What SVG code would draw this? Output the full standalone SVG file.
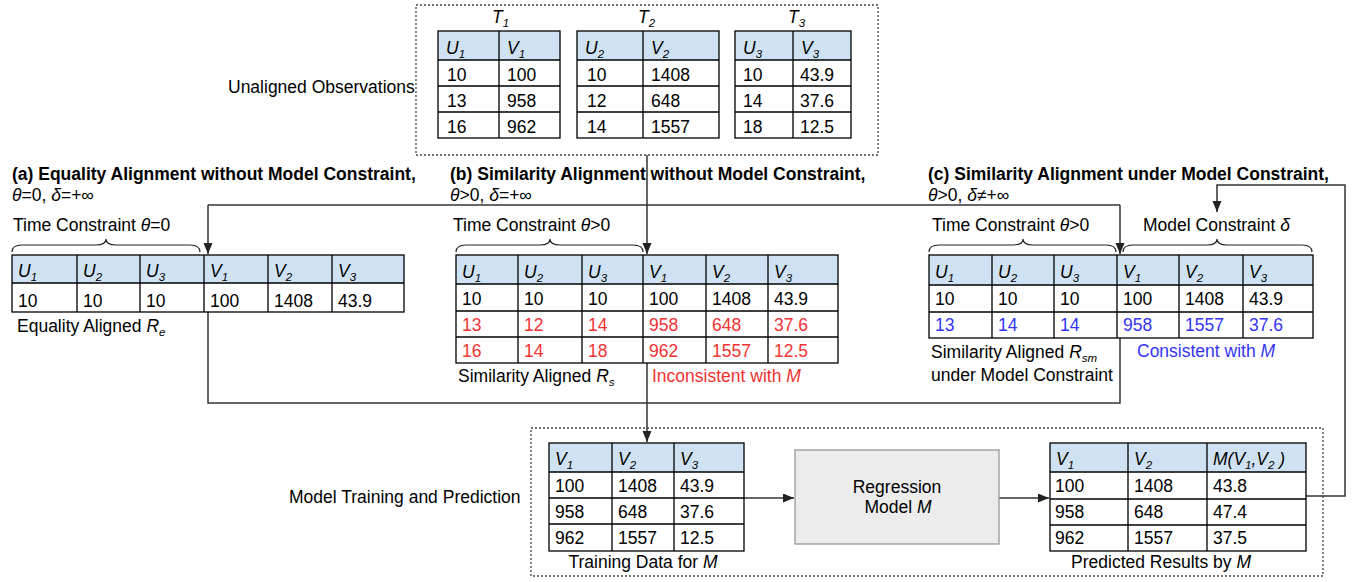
<svg xmlns="http://www.w3.org/2000/svg" width="1367" height="582" viewBox="0 0 1367 582">
<style>
text{font-family:"Liberation Sans",Arial,sans-serif;font-size:17.5px;fill:#000}
.b{font-weight:bold}
.i{font-style:italic}
.s{font-size:11.5px;font-style:italic}
.red{fill:#f23232}
.blue{fill:#3434f4}
.hdr{fill:#cfe2f3;stroke:none}
.grid{stroke:#000;stroke-width:1.3;fill:none}
.conn{stroke:#333;stroke-width:1.5;fill:none}
.brace{stroke:#222;stroke-width:1.2;fill:none}
.dash{stroke:#444;stroke-width:1.3;fill:none;stroke-dasharray:2 2}
.mid{text-anchor:middle}
</style>
<defs>
<marker id="arr" markerUnits="userSpaceOnUse" markerWidth="12" markerHeight="10" refX="11" refY="4.5" orient="auto">
<path d="M0,0 L11,4.5 L0,9 z" fill="#222"/>
</marker>
</defs>
<rect width="1367" height="582" fill="#fff"/>

<g id="connectors">
<path class="conn" d="M647,155 V254" marker-end="url(#arr)"/>
<path class="conn" d="M208,205 H1120"/>
<path class="conn" d="M208,205 V254" marker-end="url(#arr)"/>
<path class="conn" d="M1120,205 V254" marker-end="url(#arr)"/>
<path class="conn" d="M208,312 V403 H1120 V338"/>
<path class="conn" d="M647,363 V442" marker-end="url(#arr)"/>
<path class="conn" d="M744,498 H794" marker-end="url(#arr)"/>
<path class="conn" d="M999,498 H1049" marker-end="url(#arr)"/>
<path class="conn" d="M1306,496 H1345 V185 H1217 V212" marker-end="url(#arr)"/>
</g>

<g id="unaligned">
<rect class="dash" x="416" y="5" width="462" height="150"/>
<text x="228" y="93">Unaligned Observations</text>
<g id="T1">
<text x="492" y="23" class="i">T<tspan class="s" dy="4">1</tspan></text>
<rect class="hdr" x="438" y="31" width="122" height="29"/>
<rect class="grid" x="438" y="31" width="122" height="107"/>
<path class="grid" d="M499,31V138M438,60H560M438,86H560M438,112H560"/>
<text x="446" y="54" class="i">U<tspan class="s" dy="4">1</tspan></text>
<text x="507" y="54" class="i">V<tspan class="s" dy="4">1</tspan></text>
<text x="447" y="81">10</text><text x="507" y="81">100</text>
<text x="447" y="107">13</text><text x="507" y="107">958</text>
<text x="447" y="133">16</text><text x="507" y="133">962</text>
</g>
<g id="T2">
<text x="638" y="23" class="i">T<tspan class="s" dy="4">2</tspan></text>
<rect class="hdr" x="577" y="31" width="142" height="29"/>
<rect class="grid" x="577" y="31" width="142" height="107"/>
<path class="grid" d="M643,31V138M577,60H719M577,86H719M577,112H719"/>
<text x="585" y="54" class="i">U<tspan class="s" dy="4">2</tspan></text>
<text x="651" y="54" class="i">V<tspan class="s" dy="4">2</tspan></text>
<text x="587" y="81">10</text><text x="651" y="81">1408</text>
<text x="587" y="107">12</text><text x="651" y="107">648</text>
<text x="587" y="133">14</text><text x="651" y="133">1557</text>
</g>
<g id="T3">
<text x="788" y="23" class="i">T<tspan class="s" dy="4">3</tspan></text>
<rect class="hdr" x="735" y="31" width="116" height="29"/>
<rect class="grid" x="735" y="31" width="116" height="107"/>
<path class="grid" d="M793,31V138M735,60H851M735,86H851M735,112H851"/>
<text x="743" y="54" class="i">U<tspan class="s" dy="4">3</tspan></text>
<text x="801" y="54" class="i">V<tspan class="s" dy="4">3</tspan></text>
<text x="743" y="81">10</text><text x="800" y="81">43.9</text>
<text x="743" y="107">14</text><text x="800" y="107">37.6</text>
<text x="743" y="133">18</text><text x="800" y="133">12.5</text>
</g>
</g>

<g id="equality">
<text x="12" y="180" class="b">(a) Equality Alignment without Model Constraint,</text>
<text x="12" y="201"><tspan class="i">θ</tspan>=0, <tspan class="i">δ</tspan>=+∞</text>
<text x="13" y="231">Time Constraint <tspan class="i">θ</tspan>=0</text>
<path class="brace" d="M12,252 Q12,245 22,245 H96 Q106,245 106,239 Q106,245 116,245 H190 Q200,245 200,252"/>
<rect class="hdr" x="12" y="255" width="392" height="28"/>
<rect class="grid" x="12" y="255" width="392" height="57"/>
<path class="grid" d="M77,255V312M140,255V312M204,255V312M268,255V312M332,255V312M12,283H404"/>
<text x="18" y="277" class="i">U<tspan class="s" dy="4">1</tspan></text>
<text x="83" y="277" class="i">U<tspan class="s" dy="4">2</tspan></text>
<text x="146" y="277" class="i">U<tspan class="s" dy="4">3</tspan></text>
<text x="210" y="277" class="i">V<tspan class="s" dy="4">1</tspan></text>
<text x="274" y="277" class="i">V<tspan class="s" dy="4">2</tspan></text>
<text x="338" y="277" class="i">V<tspan class="s" dy="4">3</tspan></text>
<text x="18" y="307">10</text><text x="83" y="307">10</text><text x="146" y="307">10</text>
<text x="210" y="307">100</text><text x="274" y="307">1408</text><text x="338" y="307">43.9</text>
<text x="17" y="332">Equality Aligned <tspan class="i">R</tspan><tspan class="s" dy="4">e</tspan></text>
</g>

<g id="similarity">
<text x="450" y="180" class="b">(b) Similarity Alignment without Model Constraint,</text>
<text x="450" y="201"><tspan class="i">θ</tspan>&gt;0, <tspan class="i">δ</tspan>=+∞</text>
<text x="453" y="231">Time Constraint <tspan class="i">θ</tspan>&gt;0</text>
<path class="brace" d="M456,252 Q456,245 466,245 H540 Q550,245 550,239 Q550,245 560,245 H633 Q643,245 643,252"/>
<rect class="hdr" x="456" y="255" width="382" height="29"/>
<rect class="grid" x="456" y="255" width="382" height="108"/>
<path class="grid" d="M518,255V363M582,255V363M643,255V363M706,255V363M768,255V363M456,284H838M456,311H838M456,337H838"/>
<text x="462" y="278" class="i">U<tspan class="s" dy="4">1</tspan></text>
<text x="524" y="278" class="i">U<tspan class="s" dy="4">2</tspan></text>
<text x="588" y="278" class="i">U<tspan class="s" dy="4">3</tspan></text>
<text x="649" y="278" class="i">V<tspan class="s" dy="4">1</tspan></text>
<text x="712" y="278" class="i">V<tspan class="s" dy="4">2</tspan></text>
<text x="774" y="278" class="i">V<tspan class="s" dy="4">3</tspan></text>
<text x="462" y="305">10</text><text x="524" y="305">10</text><text x="588" y="305">10</text>
<text x="649" y="305">100</text><text x="712" y="305">1408</text><text x="774" y="305">43.9</text>
<text class="red" x="462" y="331">13</text><text class="red" x="524" y="331">12</text><text class="red" x="588" y="331">14</text>
<text class="red" x="649" y="331">958</text><text class="red" x="712" y="331">648</text><text class="red" x="774" y="331">37.6</text>
<text class="red" x="462" y="357">16</text><text class="red" x="524" y="357">14</text><text class="red" x="588" y="357">18</text>
<text class="red" x="649" y="357">962</text><text class="red" x="712" y="357">1557</text><text class="red" x="774" y="357">12.5</text>
<text x="458" y="382">Similarity Aligned <tspan class="i">R</tspan><tspan class="s" dy="4">s</tspan></text>
<text x="652" y="382" class="red">Inconsistent with <tspan class="i red">M</tspan></text>
</g>

<g id="model-constrained">
<text x="928" y="180" class="b">(c) Similarity Alignment under Model Constraint,</text>
<text x="928" y="201"><tspan class="i">θ</tspan>&gt;0, <tspan class="i">δ</tspan>≠+∞</text>
<text x="932" y="231">Time Constraint <tspan class="i">θ</tspan>&gt;0</text>
<text x="1143" y="231">Model Constraint <tspan class="i">δ</tspan></text>
<path class="brace" d="M929,252 Q929,245 939,245 H1013 Q1023,245 1023,239 Q1023,245 1033,245 H1106 Q1116,245 1116,252"/>
<path class="brace" d="M1123,252 Q1123,245 1133,245 H1207 Q1217,245 1217,239 Q1217,245 1227,245 H1302 Q1312,245 1312,252"/>
<rect class="hdr" x="929" y="255" width="384" height="30"/>
<rect class="grid" x="929" y="255" width="384" height="83"/>
<path class="grid" d="M992,255V338M1054,255V338M1117,255V338M1179,255V338M1243,255V338M929,285H1313M929,312H1313"/>
<text x="935" y="278" class="i">U<tspan class="s" dy="4">1</tspan></text>
<text x="998" y="278" class="i">U<tspan class="s" dy="4">2</tspan></text>
<text x="1060" y="278" class="i">U<tspan class="s" dy="4">3</tspan></text>
<text x="1123" y="278" class="i">V<tspan class="s" dy="4">1</tspan></text>
<text x="1185" y="278" class="i">V<tspan class="s" dy="4">2</tspan></text>
<text x="1249" y="278" class="i">V<tspan class="s" dy="4">3</tspan></text>
<text x="935" y="305">10</text><text x="998" y="305">10</text><text x="1060" y="305">10</text>
<text x="1123" y="305">100</text><text x="1185" y="305">1408</text><text x="1249" y="305">43.9</text>
<text class="blue" x="935" y="331">13</text><text class="blue" x="998" y="331">14</text><text class="blue" x="1060" y="331">14</text>
<text class="blue" x="1123" y="331">958</text><text class="blue" x="1185" y="331">1557</text><text class="blue" x="1249" y="331">37.6</text>
<text x="931" y="358">Similarity Aligned <tspan class="i">R</tspan><tspan class="s" dy="4">sm</tspan></text>
<text x="931" y="381">under Model Constraint</text>
<text x="1137" y="357" class="blue">Consistent with <tspan class="i blue">M</tspan></text>
</g>

<g id="training-prediction">
<rect class="dash" x="531" y="428" width="792" height="148"/>
<text x="289" y="503">Model Training and Prediction</text>
<g id="training-data">
<rect class="hdr" x="549" y="443" width="195" height="29"/>
<rect class="grid" x="549" y="443" width="195" height="108"/>
<path class="grid" d="M612,443V551M674,443V551M549,472H744M549,498H744M549,524H744"/>
<text x="555" y="465" class="i">V<tspan class="s" dy="4">1</tspan></text>
<text x="618" y="465" class="i">V<tspan class="s" dy="4">2</tspan></text>
<text x="680" y="465" class="i">V<tspan class="s" dy="4">3</tspan></text>
<text x="555" y="492">100</text><text x="618" y="492">1408</text><text x="680" y="492">43.9</text>
<text x="555" y="518">958</text><text x="618" y="518">648</text><text x="680" y="518">37.6</text>
<text x="555" y="544">962</text><text x="618" y="544">1557</text><text x="680" y="544">12.5</text>
<text x="643" y="568" class="mid">Training Data for <tspan class="i">M</tspan></text>
</g>
<g id="regression">
<rect x="795" y="450" width="204" height="94" fill="#ececec" stroke="#999" stroke-width="1.3"/>
<text x="897" y="493" class="mid">Regression</text>
<text x="898" y="513" class="mid">Model <tspan class="i">M</tspan></text>
</g>
<g id="predicted">
<rect class="hdr" x="1050" y="443" width="256" height="29"/>
<rect class="grid" x="1050" y="443" width="256" height="108"/>
<path class="grid" d="M1128,443V551M1207,443V551M1050,472H1306M1050,499H1306M1050,525H1306"/>
<text x="1056" y="465" class="i">V<tspan class="s" dy="4">1</tspan></text>
<text x="1134" y="465" class="i">V<tspan class="s" dy="4">2</tspan></text>
<text x="1213" y="465" class="i">M(V<tspan class="s" dy="4">1</tspan><tspan dy="-4">,V</tspan><tspan class="s" dy="4">2</tspan><tspan dy="-4"> )</tspan></text>
<text x="1055" y="492">100</text><text x="1134" y="492">1408</text><text x="1213" y="492">43.8</text>
<text x="1055" y="518">958</text><text x="1134" y="518">648</text><text x="1213" y="518">47.4</text>
<text x="1055" y="544">962</text><text x="1134" y="544">1557</text><text x="1213" y="544">37.5</text>
<text x="1161" y="568" class="mid">Predicted Results by <tspan class="i">M</tspan></text>
</g>
</g>
</svg>
